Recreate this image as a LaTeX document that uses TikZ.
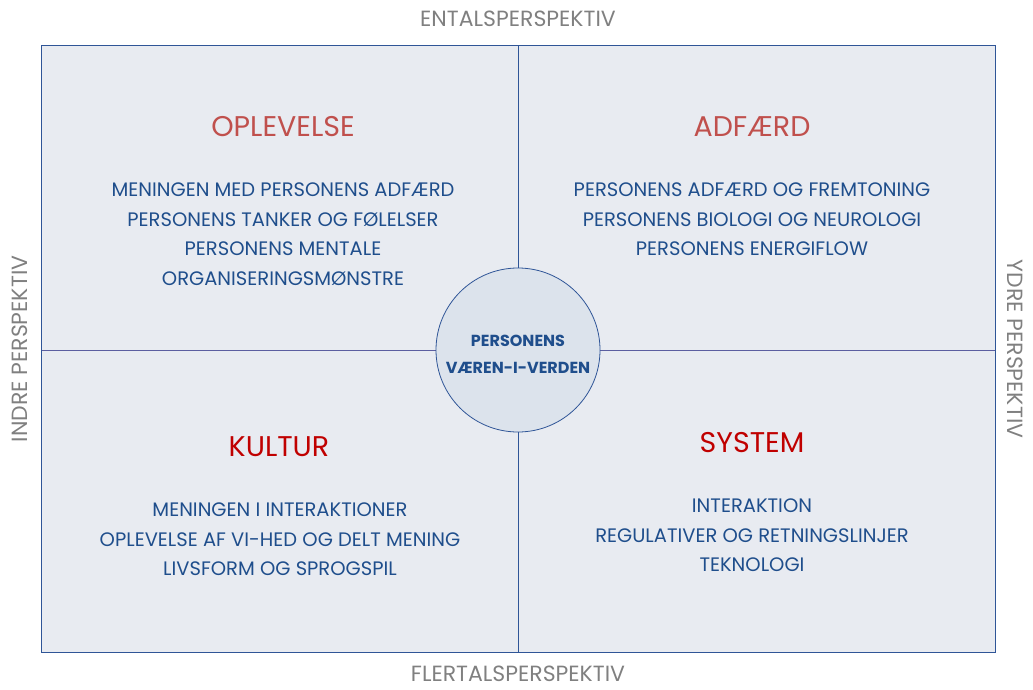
\documentclass[tikz,border=0pt]{standalone}
\usepackage{fontspec}
\setmainfont{Poppins}
\usetikzlibrary{positioning}
\definecolor{panelbg}{HTML}{E8EBF1}
\definecolor{circbg}{HTML}{DCE3EC}
\definecolor{framebl}{HTML}{2F5597}
\definecolor{crossbl}{HTML}{5B5EA0}
\definecolor{textbl}{HTML}{1F4E8C}
\definecolor{softred}{HTML}{C0504D}
\definecolor{deepred}{HTML}{C00000}
\definecolor{axisgray}{HTML}{808080}
\tikzset{
	heading/.style={font=\fontsize{28.5}{32}\selectfont},
	body/.style={text=textbl, align=center, font=\fontsize{19.5}{29.5}\selectfont},
	axislabel/.style={text=axisgray, inner sep=0pt, text height=15.5pt, text depth=0pt, font=\fontsize{22}{24}\selectfont},
}

\begin{document}
\begin{tikzpicture}[x=1pt,y=-1pt]
	\useasboundingbox (0,0) rectangle (1033,690);
	\path (41,46) coordinate(nw)
	(995,652) coordinate(se)
	(518,350) coordinate(mid);
	\fill[panelbg] (nw) rectangle (se);
	\draw[crossbl, line width=1pt] (41,350) -- (995,350);
	\draw[framebl, line width=1pt] (518,46) -- (518,652);
	\draw[framebl, line width=1pt] (nw) rectangle (se);
	\node[circle, draw=framebl, fill=circbg, line width=0.8pt, minimum size=164pt, inner sep=0pt] (core) at (mid) {};
	\node[text=textbl, align=center, font=\bfseries\fontsize{16}{27}\selectfont] (coretxt) at (518,354) {PERSONENS\\VÆREN-I-VERDEN};
	
	% quadrant headings
	\node[heading, text=softred] (opl) at (283,127) {OPLEVELSE};
	\node[heading, text=softred] (adf) at (752,127) {ADFÆRD};
	\node[heading, text=deepred] (kul) at (279,447) {KULTUR};
	\node[heading, text=deepred] (sys) at (752,443) {SYSTEM};
	
	% quadrant contents
	\node[body, anchor=north] (oplbody) at (283,179.5) {MENINGEN MED PERSONENS ADFÆRD\\PERSONENS TANKER OG FØLELSER\\PERSONENS MENTALE\\ORGANISERINGSMØNSTRE};
	\node[body, anchor=north] (adfbody) at (752,179.5) {PERSONENS ADFÆRD OG FREMTONING\\PERSONENS BIOLOGI OG NEUROLOGI\\PERSONENS ENERGIFLOW};
	\node[body, anchor=north] (kulbody) at (280,499.5) {MENINGEN I INTERAKTIONER\\OPLEVELSE AF VI-HED OG DELT MENING\\LIVSFORM OG SPROGSPIL};
	\node[body, anchor=north] (sysbody) at (752,495.5) {INTERAKTION\\REGULATIVER OG RETNINGSLINJER\\TEKNOLOGI};
	
	% axes
	\node[axislabel] (top) at (518,19) {ENTALSPERSPEKTIV};
	\node[axislabel] (bot) at (518,674) {FLERTALSPERSPEKTIV};
	\node[axislabel, rotate=90] (lft) at (20,349) {INDRE PERSPEKTIV};
	\node[axislabel, rotate=-90] (rgt) at (1015,349) {YDRE PERSPEKTIV};
\end{tikzpicture}
\end{document}
